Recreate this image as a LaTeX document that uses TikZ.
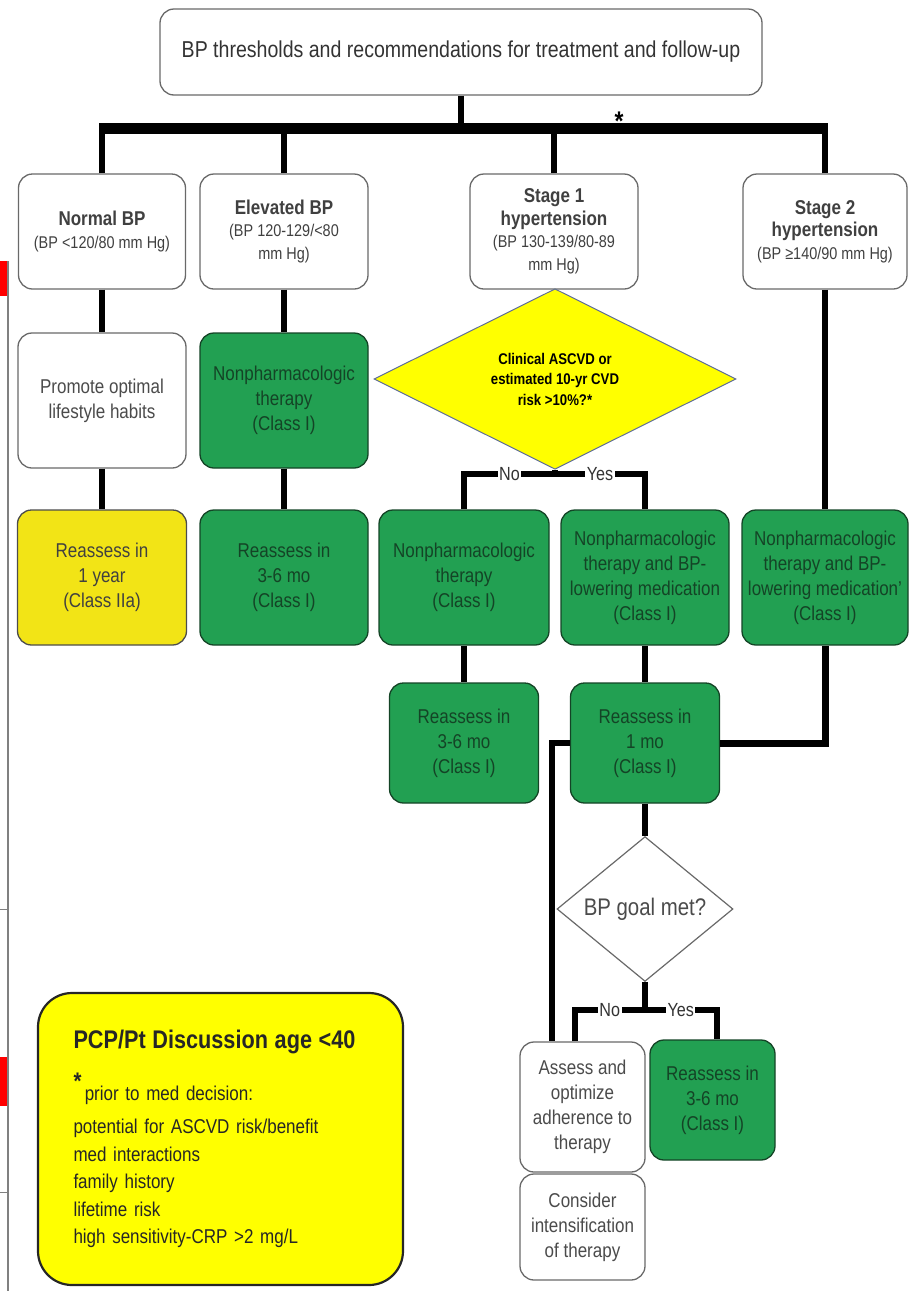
\documentclass[tikz,border=0pt]{standalone}
\usepackage{fontspec}
\setmainfont[FakeStretch=0.85]{Liberation Sans}
\usetikzlibrary{shapes.geometric,positioning}
\definecolor{boxgreen}{RGB}{34,160,82}
\definecolor{darkgreen}{RGB}{20,68,38}
\definecolor{lemon}{RGB}{255,255,0}
\definecolor{oldyellow}{RGB}{242,228,22}
\definecolor{framegray}{RGB}{105,105,105}
\definecolor{textgray}{RGB}{75,75,75}
\definecolor{edgeblue}{RGB}{95,110,150}
\newcommand\headline[1]{{\bfseries\fontsize{20}{22.5}\selectfont #1}}
\tikzset{
  basic/.style      = {draw, rectangle, rounded corners=14pt, align=center, inner sep=3pt, line width=1.3pt},
  plain box/.style  = {basic, draw=framegray, fill=white, text=textgray,
                       font=\fontsize{20}{25}\selectfont},
  head box/.style   = {basic, draw=framegray, fill=white, text=black!75,
                       minimum width=167pt, minimum height=115pt, font=\fontsize{17}{22.5}\selectfont},
  green box/.style  = {basic, draw=darkgreen, fill=boxgreen, text=darkgreen,
                       font=\fontsize{20}{25}\selectfont},
  decision/.style   = {diamond, draw, inner sep=0pt, align=center},
  conn/.style       = {draw, line width=6pt},
  lbl/.style        = {fill=white, inner sep=1.5pt, text=black!80, font=\fontsize{19}{19}\selectfont}
}

\begin{document}
\begin{tikzpicture}[x=1pt,y=-1pt]
\useasboundingbox (0,0) rectangle (909,1291);
% edge of the neighbouring slide
\fill[red] (0,261) rectangle (7,296);
\fill[red] (0,1057) rectangle (7,1106);
\draw[gray, line width=1.2pt] (8,261) -- (8,1291);
\draw[gray, line width=1pt] (0,909) -- (8,909) (0,1192) -- (8,1192);

\node[plain box, text=black!80, minimum width=602pt, minimum height=86pt, font=\fontsize{23}{25}\selectfont] (top) at (461,52)
  {BP thresholds and recommendations for treatment and follow-up};

% categories
\node[head box] (normal) at (102,231.5) {\headline{Normal BP}\\(BP <120/80 mm Hg)};
\node[head box, minimum width=168pt] (elev) at (284,231.5) {\headline{Elevated BP}\\(BP 120-129/<80\\mm Hg)};
\node[head box, minimum width=168pt] (stage1) at (554,231.5) {\headline{Stage 1}\\\headline{hypertension}\\(BP 130-139/80-89\\mm Hg)};
\node[head box, minimum width=164pt] (stage2) at (825,231.5) {\headline{Stage 2}\\\headline{hypertension}\\(BP ≥140/90 mm Hg)};

\coordinate (bar) at (461,128);
\draw[line width=11pt, shorten <=-3pt, shorten >=-3pt] (normal.north |- bar) -- (stage2.north |- bar);
\draw[conn] (top.south) -- (bar);
\foreach \n in {normal,elev,stage1,stage2}
  \draw[conn] (\n.north) -- (\n.north |- bar);
\node[font=\bfseries\fontsize{27}{27}\selectfont] (star) at (619,121) {*};

% second row
\node[plain box, minimum width=168pt, minimum height=135pt] (promote) at (102,400.5) {Promote optimal\\lifestyle habits};
\node[green box, minimum width=168pt, minimum height=135pt] (nonph1) at (284,400.5) {Nonpharmacologic\\therapy\\(Class I)};
\node[decision, fill=lemon, draw=edgeblue, line width=1pt, minimum width=362pt, minimum height=178pt,
      font=\bfseries\fontsize{15.5}{20.5}\selectfont] (risk) at (555,379)
  {Clinical ASCVD or\\estimated 10-yr CVD\\risk >10\%?*};

% third row
\node[basic, draw=black!70, fill=oldyellow, text=black!75, font=\fontsize{20}{25}\selectfont,
      minimum width=169pt, minimum height=135pt] (ra1y) at (102,577.5) {Reassess in\\1 year\\(Class IIa)};
\node[green box, minimum width=168pt, minimum height=135pt] (ra36a) at (284,577.5) {Reassess in\\3-6 mo\\(Class I)};
\node[green box, minimum width=170pt, minimum height=135pt] (nonph2) at (464,577.5) {Nonpharmacologic\\therapy\\(Class I)};
\node[green box, minimum width=168pt, minimum height=135pt] (nonph3) at (645,577.5) {Nonpharmacologic\\therapy and BP-\\lowering medication\\(Class I)};
\node[green box, minimum width=166pt, minimum height=135pt] (nonph4) at (825,577.5) {Nonpharmacologic\\therapy and BP-\\lowering medication'\\(Class I)};

% fourth row
\node[green box, minimum width=149pt, minimum height=120pt] (ra36b) at (464,743) {Reassess in\\3-6 mo\\(Class I)};
\node[green box, minimum width=149pt, minimum height=120pt] (ra1m) at (645,743) {Reassess in\\1 mo\\(Class I)};

\node[decision, fill=white, draw=framegray, line width=1.2pt, minimum width=176pt, minimum height=132pt,
      text=textgray, font=\fontsize{24}{25}\selectfont] (goal) at (645,909) {BP goal met?};

\node[plain box, minimum width=125pt, minimum height=130pt] (assess) at (582.5,1107) {Assess and\\optimize\\adherence to\\therapy};
\node[plain box, minimum width=125pt, minimum height=106pt] (consider) at (582.5,1227) {Consider\\intensification\\of therapy};
\node[green box, minimum width=125pt, minimum height=120pt] (ra36c) at (712.5,1100) {Reassess in\\3-6 mo\\(Class I)};

% discussion note
\node[basic, draw=black!85, line width=2.2pt, rounded corners=34pt, fill=lemon, text=black!85,
      minimum width=365pt, minimum height=292pt, align=left, text width=294pt,
      font=\fontsize{20}{27.5}\selectfont] (note) at (220.5,1139)
  {{\bfseries\fontsize{25.5}{30}\selectfont PCP/Pt Discussion age <40}\\[18pt]
   \raisebox{11pt}{\bfseries\fontsize{24}{24}\selectfont *}\,prior to med decision:\\[6pt]
   potential for ASCVD risk/benefit\\
   med interactions\\
   family history\\
   lifetime risk\\
   high sensitivity-CRP >2 mg/L};

% connectors
\draw[conn] (normal) -- (promote);
\draw[conn] (promote) -- (ra1y);
\draw[conn] (elev) -- (nonph1);
\draw[conn] (nonph1) -- (ra36a);
\coordinate (fork1) at ([yshift=-4pt]risk.south);
\draw[conn] (risk.south) -- (fork1);
\draw[conn] (nonph2.north) |- (fork1) node[lbl, pos=0.75] {No};
\draw[conn] (fork1) -| (nonph3.north) node[lbl, pos=0.25] {Yes};
\draw[conn] (stage2) -- (nonph4);
\draw[conn] (nonph2) -- (ra36b);
\draw[conn] (nonph3) -- (ra1m);
\draw[line width=7pt] (nonph4.south) |- (ra1m.east);
\draw[conn] (ra1m.west) -| ([xshift=-31pt]assess.north);
\draw[conn] (ra1m) -- (goal);
\coordinate (fork2) at ([yshift=-28pt]goal.south);
\draw[conn] (goal.south) -- (fork2);
\draw[conn] ([xshift=-8pt]assess.north) |- (fork2) node[lbl, pos=0.75] {No};
\draw[conn] (fork2) -| ([xshift=4pt]ra36c.north) node[lbl, pos=0.25] {Yes};
\end{tikzpicture}
\end{document}
